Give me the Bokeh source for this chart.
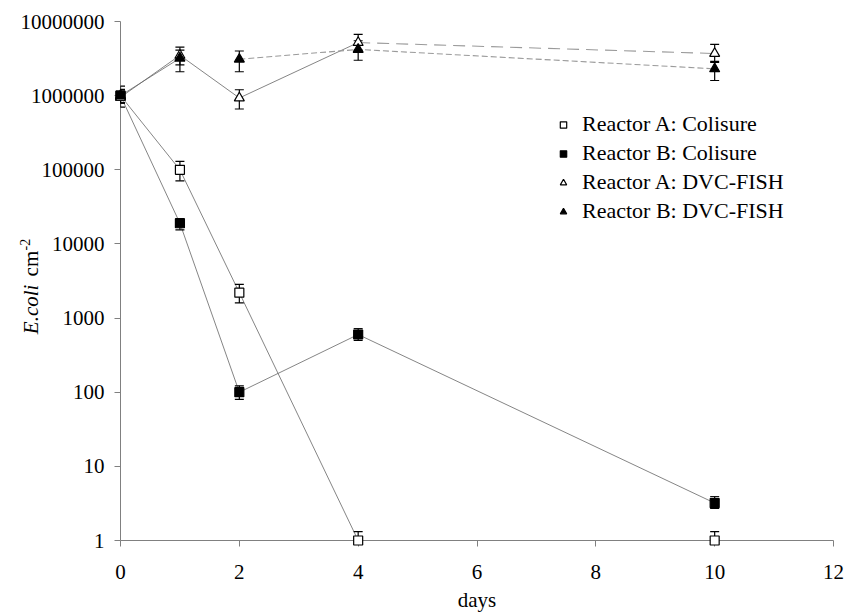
from math import pi
from bokeh.plotting import figure
from bokeh.models import (Range1d, FixedTicker, NumeralTickFormatter, Whisker, TeeHead,
                          ColumnDataSource, Legend, LegendItem)
from bokeh.core.properties import value
from bokeh.embed import file_html
from bokeh.resources import INLINE

days = [0, 1, 2, 4, 10]

colisure_a = [1000000, 100000, 2200, 1, 1]
colisure_a_lo = [700000, 71000, 1600, 1, 1]
colisure_a_hi = [1340000, 130000, 2850, 1.32, 1.32]

colisure_b = [1000000, 19000, 100, 600, 3.2]
colisure_b_lo = [790000, 15500, 80, 500, 2.7]
colisure_b_hi = [1220000, 22000, 122, 720, 3.9]

dvc_a = [950000, 3500000, 930000, 5200000, 3700000]
dvc_a_lo = [800000, 2600000, 660000, 4100000, 2900000]
dvc_a_hi = [1200000, 4500000, 1200000, 6700000, 4900000]

dvc_b = [1000000, 3200000, 3100000, 4200000, 2300000]
dvc_b_lo = [800000, 2100000, 2100000, 3000000, 1600000]
dvc_b_hi = [1200000, 4100000, 4000000, 5500000, 2800000]

x_ticks = [0, 2, 4, 6, 8, 10, 12]
y_ticks = [1, 10, 100, 1000, 10000, 100000, 1000000, 10000000]

labels = ["Reactor A: Colisure", "Reactor B: Colisure", "Reactor A: DVC-FISH", "Reactor B: DVC-FISH"]
y_title = ["E.coli", "cm", "-2"]

FONT = "Liberation Serif"
FS = "21px"
SOLID = "#666666"
DASH = "#9a9a9a"

p = figure(width=844, height=614, output_backend="svg", toolbar_location=None,
           x_range=Range1d(0, 12), y_range=Range1d(1, 1e7), y_axis_type="log",
           min_border_left=120, min_border_right=11, min_border_top=21,
           min_border_bottom=72)
p.outline_line_color = None
p.xgrid.visible = False
p.ygrid.visible = False

# axes
p.xaxis.ticker = FixedTicker(ticks=x_ticks)
p.yaxis.ticker = FixedTicker(ticks=y_ticks)
p.yaxis.formatter = NumeralTickFormatter(format="0")
p.axis.axis_line_color = "#808080"
p.axis.major_tick_line_color = "#808080"
p.axis.minor_tick_line_color = None
p.axis.major_tick_in = 0
p.axis.major_tick_out = 6
p.axis.major_label_text_font = FONT
p.axis.major_label_text_font_size = FS
p.axis.major_label_text_color = "black"
p.xaxis.major_label_standoff = 18
p.yaxis.major_label_standoff = 10
p.xaxis.axis_label = "days"
p.xaxis.axis_label_text_font = FONT
p.xaxis.axis_label_text_font_size = FS
p.xaxis.axis_label_text_font_style = "normal"
p.xaxis.axis_label_text_color = "black"
p.xaxis.axis_label_standoff = 6

# lines
p.line(days, colisure_a, line_color=SOLID, line_width=0.8)
p.line(days, colisure_b, line_color=SOLID, line_width=0.8)
p.line(days[0:4], dvc_a[0:4], line_color=SOLID, line_width=0.8)
p.line(days[3:5], dvc_a[3:5], line_color=DASH, line_width=1.1, line_dash="12 7")
p.line(days[0:2], dvc_b[0:2], line_color=SOLID, line_width=0.8)
p.line(days[2:5], dvc_b[2:5], line_color=DASH, line_width=1.1, line_dash="6 3")

# error bars
for lo, hi in ((colisure_a_lo, colisure_a_hi), (colisure_b_lo, colisure_b_hi),
               (dvc_a_lo, dvc_a_hi), (dvc_b_lo, dvc_b_hi)):
    src = ColumnDataSource(dict(x=days, lo=lo, hi=hi))
    w = Whisker(source=src, base="x", lower="lo", upper="hi", line_color="black", line_width=1.2,
                upper_head=TeeHead(size=9, line_color="black", line_width=1.2),
                lower_head=TeeHead(size=9, line_color="black", line_width=1.2),
                level="annotation")
    p.add_layout(w)

# markers
r_ca = p.scatter(days, colisure_a, marker="square", size=9, fill_color="white",
                 line_color="black", line_width=1.2, level="overlay")
r_cb = p.scatter(days, colisure_b, marker="square", size=9, fill_color="black",
                 line_color="black", line_width=1.2, level="overlay")
r_da = p.scatter(days, dvc_a, marker="triangle", size=10, fill_color="white",
                 line_color="black", line_width=1.2, level="overlay")
r_db = p.scatter(days, dvc_b, marker="triangle", size=10, fill_color="black",
                 line_color="black", line_width=1.2, level="overlay")

legend = Legend(items=[LegendItem(label=labels[0], renderers=[r_ca]),
                       LegendItem(label=labels[1], renderers=[r_cb]),
                       LegendItem(label=labels[2], renderers=[r_da]),
                       LegendItem(label=labels[3], renderers=[r_db])],
                location=(435, 316), padding=0, margin=0, spacing=3,
                glyph_width=16, glyph_height=21, label_height=21, label_standoff=11,
                label_text_font=FONT, label_text_font_size="22px", label_text_color="black",
                border_line_color=None, background_fill_alpha=0)
p.add_layout(legend)

# y-axis title with mixed styles, drawn left of the frame (overlay level is not clipped)
p.text(x=[-1.5], y=[606], text=[y_title[0]], angle=pi / 2, level="overlay",
       text_font=value(FONT), text_font_size="21px", text_font_style="italic",
       text_align="left", text_baseline="alphabetic", text_color="black")
p.text(x=[-1.5], y=[3650], text=[y_title[1]], angle=pi / 2, level="overlay",
       text_font=value(FONT), text_font_size="21px",
       text_align="left", text_baseline="alphabetic", text_color="black")
p.text(x=[-1.61], y=[8150], text=[y_title[2]], angle=pi / 2, level="overlay",
       text_font=value(FONT), text_font_size="14px",
       text_align="left", text_baseline="alphabetic", text_color="black")

open("out.html", "w").write(file_html(p, INLINE))
